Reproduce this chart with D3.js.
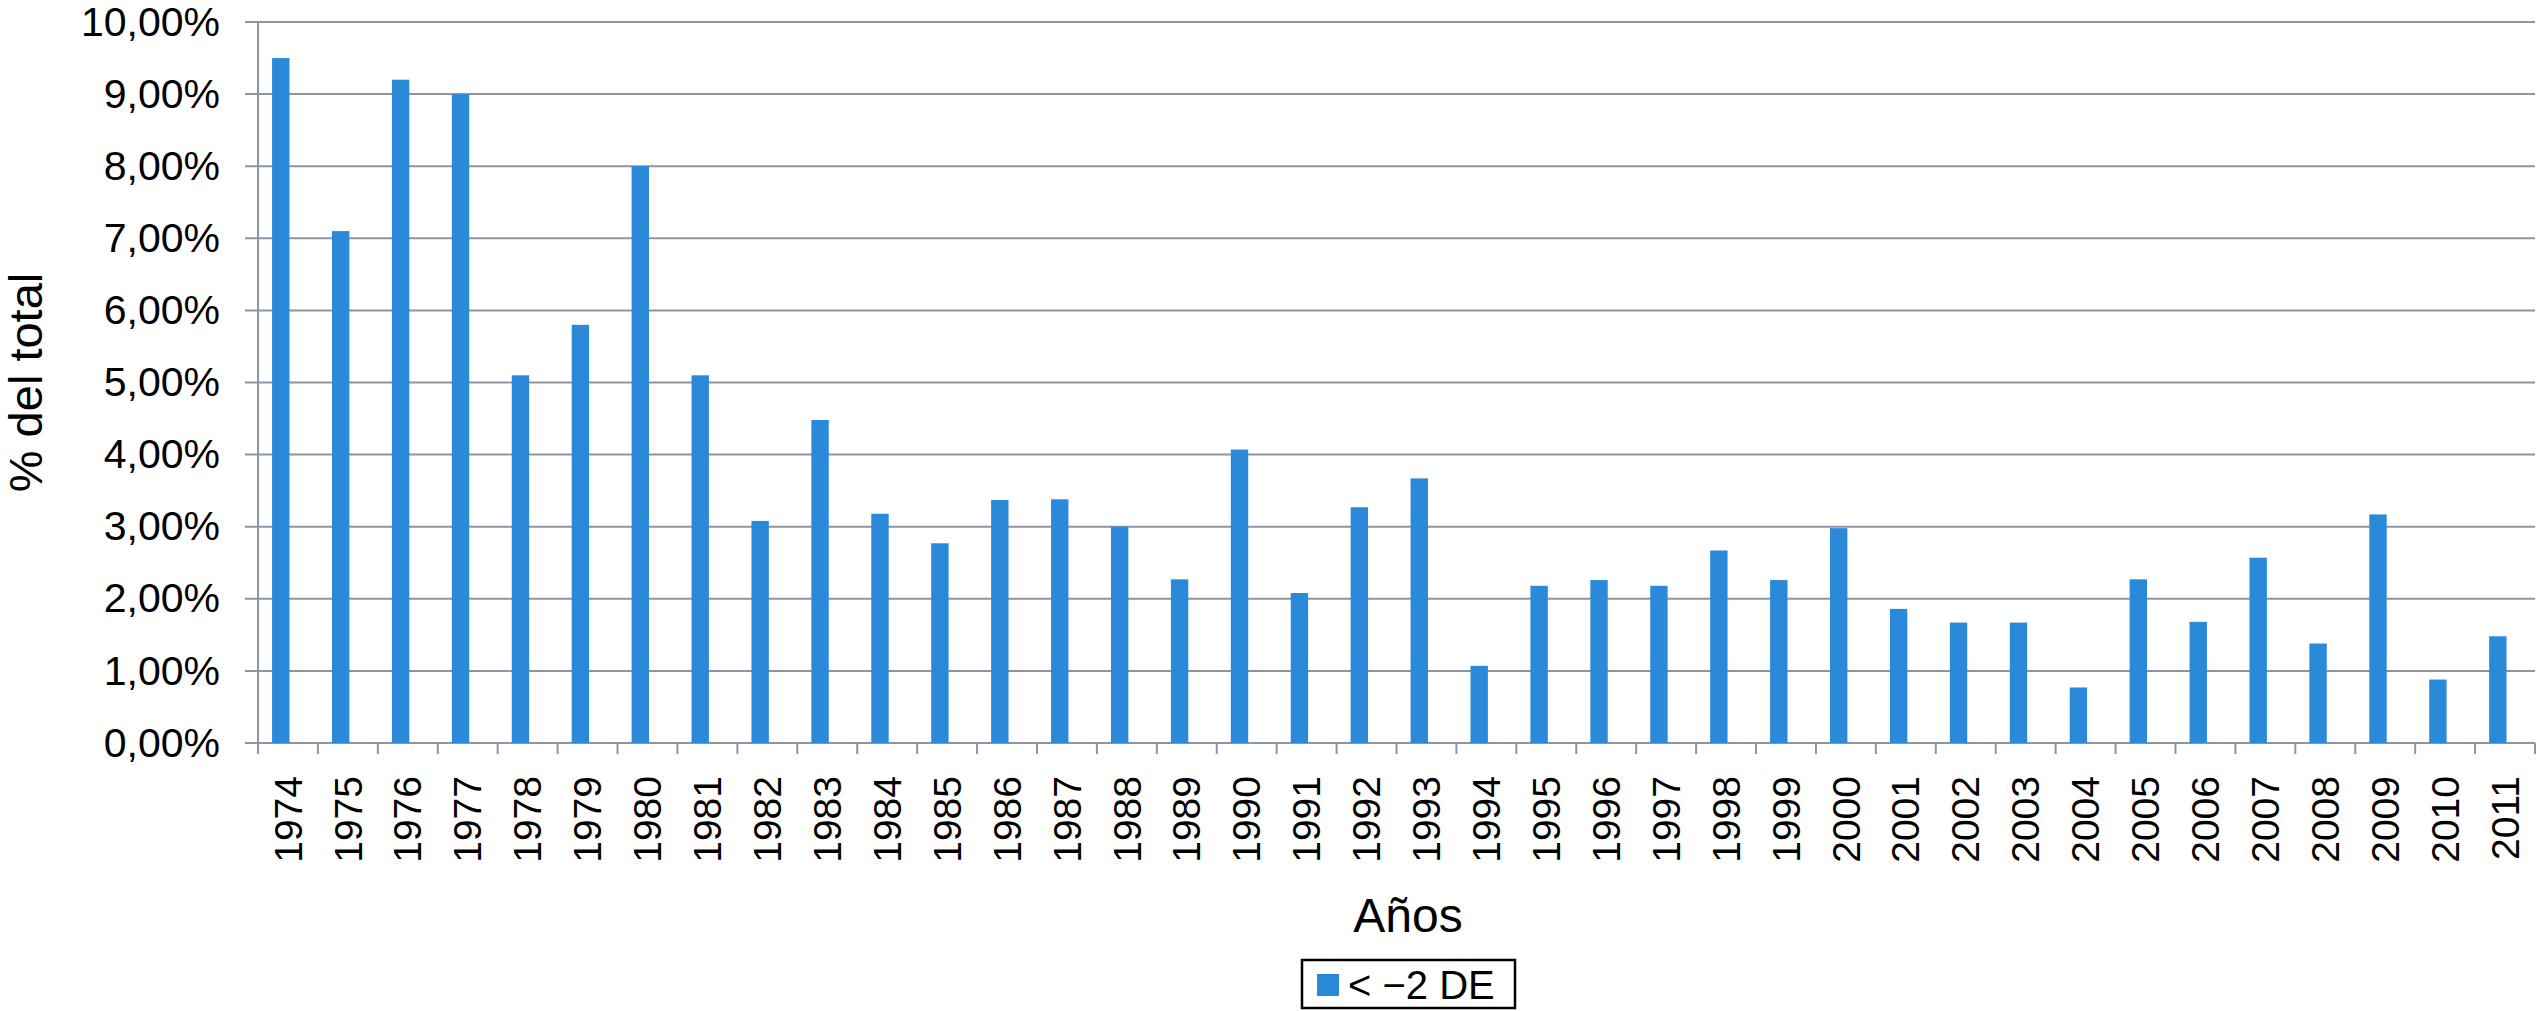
<!DOCTYPE html>
<html>
<head>
<meta charset="utf-8">
<script src="https://cdn.jsdelivr.net/npm/d3@7"></script>
<style>
    body { margin: 0; background: #fff; }
    text { font-family: "Liberation Sans", Arial, sans-serif; fill: #000; }
</style>
</head>
<body>
<div id="chart"></div>
<script>
// años del eje x
var years = ["1974", "1975", "1976", "1977", "1978", "1979", "1980", "1981", "1982", "1983",
    "1984", "1985", "1986", "1987", "1988", "1989", "1990", "1991", "1992", "1993",
    "1994", "1995", "1996", "1997", "1998", "1999", "2000", "2001", "2002", "2003",
    "2004", "2005", "2006", "2007", "2008", "2009", "2010", "2011"];

// % del total, serie "< -2 DE"
var values = [9.5, 7.1, 9.2, 9.0, 5.1, 5.8, 8.0, 5.1, 3.08, 4.48,
    3.18, 2.77, 3.37, 3.38, 3.0, 2.27, 4.07, 2.08, 3.27, 3.67,
    1.07, 2.18, 2.26, 2.18, 2.67, 2.26, 2.98, 1.86, 1.67, 1.67,
    0.77, 2.27, 1.68, 2.57, 1.38, 3.17, 0.88, 1.48];

var yTicks = [0, 1, 2, 3, 4, 5, 6, 7, 8, 9, 10];
var yTickLabels = ["0,00%", "1,00%", "2,00%", "3,00%", "4,00%", "5,00%",
    "6,00%", "7,00%", "8,00%", "9,00%", "10,00%"];

var seriesName = "< \u22122 DE";

(function() {
    var width = 2541,
        height = 1011;

    var left = 258, right = 2535, top = 22, bottom = 743;
    var gridColor = "#8f94a4";
    var barColor = "#2b89da";

    var svg = d3.select("#chart")
        .append("svg")
        .attr("width", width)
        .attr("height", height);

    var x = d3.scaleBand().domain(years).range([left, right]).padding(0);
    var y = d3.scaleLinear().domain([0, 10]).range([bottom, top]);

    // horizontal gridlines (they stick out a bit on the left like ticks)
    svg.selectAll(".grid")
        .data(yTicks)
        .enter()
        .append("line")
        .attr("class", "grid")
        .attr("x1", left - 13)
        .attr("x2", right)
        .attr("y1", function(d) { return y(d) })
        .attr("y2", function(d) { return y(d) })
        .attr("stroke", gridColor)
        .attr("stroke-width", 2);

    // vertical axis line
    svg.append("line")
        .attr("x1", left).attr("x2", left)
        .attr("y1", y(10)).attr("y2", y(0))
        .attr("stroke", gridColor)
        .attr("stroke-width", 2);

    // y tick labels
    var yAxis = d3.axisLeft(y)
        .tickValues(yTicks)
        .tickSize(0)
        .tickPadding(0)
        .tickFormat(function(d, i) { return yTickLabels[i] });

    var gy = svg.append("g")
        .attr("transform", "translate(" + (left - 38) + ",0)")
        .call(yAxis);
    gy.select(".domain").remove();
    gy.selectAll("text")
        .attr("font-size", 41)
        .attr("font-family", "Liberation Sans, Arial, sans-serif")
        .attr("fill", "#000");

    // x ticks at category boundaries
    var bounds = years.map(function(d) { return x(d) }).concat([right]);
    svg.selectAll(".xtick")
        .data(bounds)
        .enter()
        .append("line")
        .attr("class", "xtick")
        .attr("x1", function(d) { return d })
        .attr("x2", function(d) { return d })
        .attr("y1", bottom)
        .attr("y2", bottom + 11)
        .attr("stroke", gridColor)
        .attr("stroke-width", 2);

    // bars
    var bw = x.bandwidth();
    svg.selectAll(".bar")
        .data(values)
        .enter()
        .append("rect")
        .attr("class", "bar")
        .attr("x", function(d, i) { return x(years[i]) + bw * 0.235 })
        .attr("width", bw * 0.29)
        .attr("y", function(d) { return y(d) })
        .attr("height", function(d) { return y(0) - y(d) })
        .attr("fill", barColor);

    // year labels, rotated
    var xAxis = d3.axisBottom(x).tickSize(0).tickPadding(0);
    var gx = svg.append("g")
        .attr("transform", "translate(0," + bottom + ")")
        .call(xAxis);
    gx.select(".domain").remove();
    gx.selectAll("text")
        .attr("font-size", 39)
        .attr("font-family", "Liberation Sans, Arial, sans-serif")
        .attr("fill", "#000")
        .attr("text-anchor", "end")
        .attr("transform", "rotate(-90)")
        .attr("x", -33)
        .attr("y", 0)
        .attr("dy", "0.35em");

    // axis titles
    svg.append("text")
        .attr("transform", "translate(42," + ((top + bottom) / 2) + ") rotate(-90)")
        .attr("text-anchor", "middle")
        .attr("font-size", 47)
        .text("% del total");

    svg.append("text")
        .attr("x", 1408)
        .attr("y", 932)
        .attr("text-anchor", "middle")
        .attr("font-size", 48)
        .text("Años");

    // legend
    var legend = svg.append("g").attr("transform", "translate(1302,960)");
    legend.append("rect")
        .attr("width", 213)
        .attr("height", 48)
        .attr("fill", "#fff")
        .attr("stroke", "#000")
        .attr("stroke-width", 2.5);
    legend.append("rect")
        .attr("x", 15)
        .attr("y", 14)
        .attr("width", 22)
        .attr("height", 22)
        .attr("fill", barColor);
    legend.append("text")
        .attr("x", 46)
        .attr("y", 39)
        .attr("font-size", 40)
        .text(seriesName);
})();
</script>
</body>
</html>
